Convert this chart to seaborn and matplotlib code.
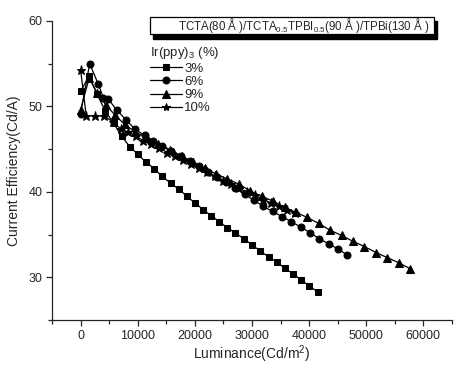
import seaborn as sns
import pandas as pd
import matplotlib.pyplot as plt
from matplotlib.patches import Rectangle
from matplotlib.ticker import MultipleLocator

# Luminance (Cd/m2) and current efficiency (Cd/A) for each Ir(ppy)3 doping level
lum_3 = [0, 1500, 2900, 4300, 5800, 7200, 8600, 10000, 11400, 12900, 14300, 15800,
         17200, 18600, 20000, 21500, 22900, 24300, 25700, 27100, 28600, 30000, 31400,
         32900, 34300, 35700, 37200, 38600, 40000, 41500]
ce_3 = [51.8, 53.5, 51.4, 49.5, 48.0, 46.5, 45.3, 44.4, 43.5, 42.7, 41.8, 41.0,
        40.3, 39.5, 38.7, 37.9, 37.2, 36.5, 35.8, 35.2, 34.5, 33.8, 33.1,
        32.4, 31.8, 31.1, 30.4, 29.7, 29.0, 28.3]

lum_6 = [0, 1600, 3100, 4000, 4800, 6300, 8000, 9600, 11200, 12700, 14300, 15900,
         17500, 19100, 20700, 22300, 23900, 25500, 27100, 28700, 30400, 32000, 33600,
         35300, 36900, 38500, 40200, 41800, 43500, 45100, 46700]
ce_6 = [49.1, 55.0, 52.6, 51.0, 50.9, 49.6, 48.4, 47.3, 46.6, 46.0, 45.4, 44.8,
        44.2, 43.6, 43.0, 42.3, 41.7, 41.1, 40.4, 39.7, 39.0, 38.3, 37.7,
        37.1, 36.5, 35.9, 35.2, 34.5, 33.9, 33.3, 32.6]

lum_9 = [0, 1500, 2900, 4400, 6000, 7700, 9600, 11600, 13600, 15700, 17700, 19700,
         21700, 23700, 25700, 27700, 29700, 31700, 33700, 35700, 37700, 39700, 41700,
         43700, 45700, 47700, 49700, 51700, 53700, 55700, 57700]
ce_9 = [49.6, 53.3, 51.6, 50.2, 49.0, 47.9, 47.0, 46.3, 45.6, 44.9, 44.2, 43.5,
        42.8, 42.1, 41.5, 40.9, 40.1, 39.5, 38.9, 38.2, 37.6, 37.0, 36.3,
        35.5, 34.9, 34.2, 33.6, 32.9, 32.3, 31.7, 31.0]

lum_10 = [0, 1000, 2600, 4100, 5600, 7000, 8300, 9700, 11000, 12400, 13800, 15200,
          16600, 18000, 19400, 20800, 22200, 23600, 25000, 26400, 27800, 29200, 30600,
          32000, 33400, 34800, 36200, 37600]
ce_10 = [54.3, 48.9, 48.9, 48.9, 48.2, 47.4, 47.0, 46.5, 46.0, 45.6, 45.1, 44.6,
         44.2, 43.7, 43.2, 42.8, 42.3, 41.8, 41.3, 40.9, 40.4, 40.0, 39.6,
         39.1, 38.7, 38.3, 37.9, 37.5]

labels = ['3%', '6%', '9%', '10%']

frames = []
for lab, xs, ys in zip(labels, [lum_3, lum_6, lum_9, lum_10], [ce_3, ce_6, ce_9, ce_10]):
    frames.append(pd.DataFrame({'lum': xs, 'ce': ys, 'conc': lab}))
df = pd.concat(frames, ignore_index=True)

sns.set_style('ticks')
plt.rcParams['font.family'] = ['Liberation Sans', 'DejaVu Sans']
plt.rcParams['mathtext.fontset'] = 'custom'
plt.rcParams['mathtext.rm'] = 'Liberation Sans'
plt.rcParams['mathtext.it'] = 'Liberation Sans:italic'

fig = plt.figure(figsize=(4.56, 3.67), dpi=100)
ax = fig.add_axes([0.114, 0.128, 0.877, 0.815])

sns.lineplot(data=df, x='lum', y='ce', style='conc', markers=['s', 'o', '^', '*'],
             dashes=False, color='black', sort=False, estimator=None,
             markersize=5, markeredgecolor='black', linewidth=0.9, ax=ax)
# marker sizes a bit different per shape in the original
msize = {'*': 6.5, '^': 6}
for ln in ax.lines:
    if ln.get_marker() in msize:
        ln.set_markersize(msize[ln.get_marker()])

ax.set_xlim(-5000, 65000)
ax.set_ylim(25, 60)
ax.xaxis.set_major_locator(MultipleLocator(10000))
ax.xaxis.set_minor_locator(MultipleLocator(5000))
ax.yaxis.set_major_locator(MultipleLocator(10))
ax.yaxis.set_minor_locator(MultipleLocator(5))
ax.set_xticks([0, 10000, 20000, 30000, 40000, 50000, 60000])
ax.tick_params(which='major', length=4, width=0.9, labelsize=9, pad=3)
ax.tick_params(which='minor', length=3, width=0.9)
for s in ['top', 'right']:
    ax.spines[s].set_visible(False)
for s in ['left', 'bottom']:
    ax.spines[s].set_linewidth(0.9)

ax.set_xlabel('Luminance(Cd/m$^2$)', fontsize=10, labelpad=1)
ax.set_ylabel('Current Efficiency(Cd/A)', fontsize=10, labelpad=5)

leg = ax.legend(title='Ir(ppy)$_3$ (%)', frameon=False, loc='upper left',
                bbox_to_anchor=(0.225, 0.945), fontsize=9.5, title_fontsize=9.5,
                handlelength=2.4, handletextpad=0.2, labelspacing=0.08,
                borderpad=0.1, alignment='left')
for h in leg.legend_handles:
    if h.get_marker() in msize:
        h.set_markersize(msize[h.get_marker()] - 0.5)

# title box with drop shadow
fig.patches.append(Rectangle((153 / 456, 1 - 39 / 367), 284 / 456, 18 / 367,
                             transform=fig.transFigure, facecolor='black',
                             edgecolor='black', zorder=5))
fig.patches.append(Rectangle((150 / 456, 1 - 34.3 / 367), 284 / 456, 17.6 / 367,
                             transform=fig.transFigure, facecolor='white',
                             edgecolor='black', linewidth=0.9, zorder=6))
fig.text(178 / 456, 1 - 25.5 / 367,
         'TCTA(80 Å )/TCTA$_{0.5}$TPBI$_{0.5}$(90 Å )/TPBi(130 Å )',
         ha='left', va='center', fontsize=8.3, zorder=7)

plt.savefig('out.png', dpi=100)
